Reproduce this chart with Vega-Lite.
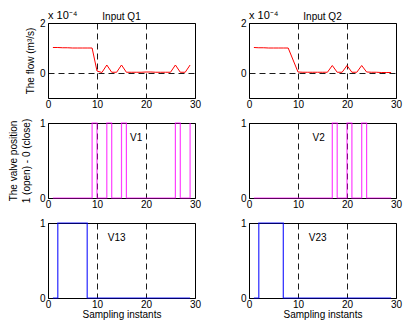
{
  "$schema": "https://vega.github.io/schema/vega-lite/v6.json",
  "padding": {"left": 7, "top": 9, "right": 0, "bottom": 0},
  "background": "white",
  "datasets": {
    "q1": [
      {"t": 1, "v": 1.02}, {"t": 2, "v": 1.02}, {"t": 3, "v": 1.01}, {"t": 4, "v": 1.01}, {"t": 5, "v": 1.0},
      {"t": 6, "v": 1.0}, {"t": 7, "v": 1.0}, {"t": 8, "v": 1.0}, {"t": 9, "v": 1.0}, {"t": 10, "v": 0.08},
      {"t": 11, "v": 0.02}, {"t": 12, "v": 0.32}, {"t": 13, "v": 0.03}, {"t": 14, "v": 0.03}, {"t": 15, "v": 0.32},
      {"t": 16, "v": 0.03}, {"t": 17, "v": 0.03}, {"t": 18, "v": 0.03}, {"t": 19, "v": 0.03}, {"t": 20, "v": 0.04},
      {"t": 21, "v": 0.04}, {"t": 22, "v": 0.03}, {"t": 23, "v": 0.03}, {"t": 24, "v": 0.03}, {"t": 25, "v": 0.03},
      {"t": 26, "v": 0.32}, {"t": 27, "v": 0.03}, {"t": 28, "v": 0.03}, {"t": 29, "v": 0.32}
    ],
    "q2": [
      {"t": 1, "v": 1.02}, {"t": 2, "v": 1.01}, {"t": 3, "v": 1.01}, {"t": 4, "v": 1.0}, {"t": 5, "v": 1.0},
      {"t": 6, "v": 1.0}, {"t": 7, "v": 1.0}, {"t": 8, "v": 1.0}, {"t": 9, "v": 0.52}, {"t": 10, "v": 0.04},
      {"t": 11, "v": 0.03}, {"t": 12, "v": 0.03}, {"t": 13, "v": 0.03}, {"t": 14, "v": 0.03}, {"t": 15, "v": 0.03},
      {"t": 16, "v": 0.03}, {"t": 17, "v": 0.3}, {"t": 18, "v": 0.03}, {"t": 19, "v": 0.03}, {"t": 20, "v": 0.3},
      {"t": 21, "v": 0.03}, {"t": 22, "v": 0.03}, {"t": 23, "v": 0.3}, {"t": 24, "v": 0.04}, {"t": 25, "v": 0.03},
      {"t": 26, "v": 0.03}, {"t": 27, "v": 0.02}, {"t": 28, "v": 0.02}, {"t": 29, "v": 0.02}
    ],
    "v1": [
      {"t": 1, "v": 0}, {"t": 2, "v": 0}, {"t": 3, "v": 0}, {"t": 4, "v": 0}, {"t": 5, "v": 0},
      {"t": 6, "v": 0}, {"t": 7, "v": 0}, {"t": 8, "v": 0}, {"t": 9, "v": 1}, {"t": 10, "v": 0},
      {"t": 11, "v": 0}, {"t": 12, "v": 1}, {"t": 13, "v": 0}, {"t": 14, "v": 0}, {"t": 15, "v": 1},
      {"t": 16, "v": 0}, {"t": 17, "v": 0}, {"t": 18, "v": 0}, {"t": 19, "v": 0}, {"t": 20, "v": 0},
      {"t": 21, "v": 0}, {"t": 22, "v": 0}, {"t": 23, "v": 0}, {"t": 24, "v": 0}, {"t": 25, "v": 0},
      {"t": 26, "v": 1}, {"t": 27, "v": 0}, {"t": 28, "v": 0}, {"t": 29, "v": 1}
    ],
    "v2": [
      {"t": 1, "v": 0}, {"t": 2, "v": 0}, {"t": 3, "v": 0}, {"t": 4, "v": 0}, {"t": 5, "v": 0},
      {"t": 6, "v": 0}, {"t": 7, "v": 0}, {"t": 8, "v": 0}, {"t": 9, "v": 0}, {"t": 10, "v": 0},
      {"t": 11, "v": 0}, {"t": 12, "v": 0}, {"t": 13, "v": 0}, {"t": 14, "v": 0}, {"t": 15, "v": 0},
      {"t": 16, "v": 0}, {"t": 17, "v": 1}, {"t": 18, "v": 0}, {"t": 19, "v": 0}, {"t": 20, "v": 1},
      {"t": 21, "v": 0}, {"t": 22, "v": 0}, {"t": 23, "v": 1}, {"t": 24, "v": 0}, {"t": 25, "v": 0},
      {"t": 26, "v": 0}, {"t": 27, "v": 0}, {"t": 28, "v": 0}, {"t": 29, "v": 0}
    ],
    "v13": [
      {"t": 1, "v": 0}, {"t": 2, "v": 1}, {"t": 3, "v": 1}, {"t": 4, "v": 1}, {"t": 5, "v": 1},
      {"t": 6, "v": 1}, {"t": 7, "v": 1}, {"t": 8, "v": 0}, {"t": 9, "v": 0}, {"t": 10, "v": 0},
      {"t": 11, "v": 0}, {"t": 12, "v": 0}, {"t": 13, "v": 0}, {"t": 14, "v": 0}, {"t": 15, "v": 0},
      {"t": 16, "v": 0}, {"t": 17, "v": 0}, {"t": 18, "v": 0}, {"t": 19, "v": 0}, {"t": 20, "v": 0},
      {"t": 21, "v": 0}, {"t": 22, "v": 0}, {"t": 23, "v": 0}, {"t": 24, "v": 0}, {"t": 25, "v": 0},
      {"t": 26, "v": 0}, {"t": 27, "v": 0}, {"t": 28, "v": 0}, {"t": 29, "v": 0}
    ],
    "v23": [
      {"t": 1, "v": 0}, {"t": 2, "v": 1}, {"t": 3, "v": 1}, {"t": 4, "v": 1}, {"t": 5, "v": 1},
      {"t": 6, "v": 1}, {"t": 7, "v": 0}, {"t": 8, "v": 0}, {"t": 9, "v": 0}, {"t": 10, "v": 0},
      {"t": 11, "v": 0}, {"t": 12, "v": 0}, {"t": 13, "v": 0}, {"t": 14, "v": 0}, {"t": 15, "v": 0},
      {"t": 16, "v": 0}, {"t": 17, "v": 0}, {"t": 18, "v": 0}, {"t": 19, "v": 0}, {"t": 20, "v": 0},
      {"t": 21, "v": 0}, {"t": 22, "v": 0}, {"t": 23, "v": 0}, {"t": 24, "v": 0}, {"t": 25, "v": 0},
      {"t": 26, "v": 0}, {"t": 27, "v": 0}, {"t": 28, "v": 0}, {"t": 29, "v": 0}
    ]
  },
  "columns": 2,
  "bounds": "flush",
  "spacing": {"row": 25, "column": 54},
  "concat": [
    {
      "width": 147, "height": 75,
      "title": {"text": "Input Q1", "frame": "group", "offset": 2, "dy": 14},
      "layer": [
        {
          "data": {"name": "q1"},
          "mark": {"type": "line", "color": "#ff0000", "strokeWidth": 1},
          "encoding": {
            "x": {"field": "t", "type": "quantitative", "scale": {"domain": [0, 30], "nice": false}, "axis": {"values": [0, 10, 20, 30], "title": null}},
            "y": {"field": "v", "type": "quantitative", "scale": {"domain": [-1, 2], "nice": false, "zero": false}, "axis": {"values": [0, 2], "title": "The flow (m³/s)", "titlePadding": 4}}
          }
        },
        {
          "data": {"values": [{"t": 0, "v": 2, "s": "x 10⁻⁴"}]},
          "mark": {"type": "text", "align": "left", "baseline": "bottom", "dy": -2, "fontSize": 11},
          "encoding": {
            "x": {"field": "t", "type": "quantitative"},
            "y": {"field": "v", "type": "quantitative"},
            "text": {"field": "s"}
          }
        }
      ]
    },
    {
      "width": 147, "height": 75,
      "title": {"text": "Input Q2", "frame": "group", "offset": 2, "dy": 14},
      "layer": [
        {
          "data": {"name": "q2"},
          "mark": {"type": "line", "color": "#ff0000", "strokeWidth": 1},
          "encoding": {
            "x": {"field": "t", "type": "quantitative", "scale": {"domain": [0, 30], "nice": false}, "axis": {"values": [0, 10, 20, 30], "title": null}},
            "y": {"field": "v", "type": "quantitative", "scale": {"domain": [-1, 2], "nice": false, "zero": false}, "axis": {"values": [0, 2], "title": null}}
          }
        },
        {
          "data": {"values": [{"t": 0, "v": 2, "s": "x 10⁻⁴"}]},
          "mark": {"type": "text", "align": "left", "baseline": "bottom", "dy": -2, "fontSize": 11},
          "encoding": {
            "x": {"field": "t", "type": "quantitative"},
            "y": {"field": "v", "type": "quantitative"},
            "text": {"field": "s"}
          }
        }
      ]
    },
    {
      "width": 147, "height": 75,
      "layer": [
        {
          "data": {"name": "v1"},
          "mark": {"type": "line", "color": "#ff00ff", "strokeWidth": 1.2, "interpolate": "step-after", "opacity": 0.75},
          "encoding": {
            "x": {"field": "t", "type": "quantitative", "scale": {"domain": [0, 30], "nice": false}, "axis": {"values": [0, 10, 20, 30], "title": null}},
            "y": {"field": "v", "type": "quantitative", "scale": {"domain": [0, 1], "nice": false}, "axis": {"values": [0, 0.5, 1], "labelExpr": "datum.value", "title": ["The valve position", "1 (open) - 0 (close)"], "titlePadding": 8, "titleLineHeight": 13}}
          }
        },
        {
          "data": {"values": [{"t": 18, "v": 0.8, "s": "V1"}]},
          "mark": {"type": "text", "align": "center", "baseline": "middle", "fontSize": 10},
          "encoding": {
            "x": {"field": "t", "type": "quantitative"},
            "y": {"field": "v", "type": "quantitative"},
            "text": {"field": "s"}
          }
        }
      ]
    },
    {
      "width": 147, "height": 75,
      "layer": [
        {
          "data": {"name": "v2"},
          "mark": {"type": "line", "color": "#ff00ff", "strokeWidth": 1.2, "interpolate": "step-after", "opacity": 0.75},
          "encoding": {
            "x": {"field": "t", "type": "quantitative", "scale": {"domain": [0, 30], "nice": false}, "axis": {"values": [0, 10, 20, 30], "title": null}},
            "y": {"field": "v", "type": "quantitative", "scale": {"domain": [0, 1], "nice": false}, "axis": {"values": [0, 0.5, 1], "labelExpr": "datum.value", "title": null}}
          }
        },
        {
          "data": {"values": [{"t": 14.2, "v": 0.8, "s": "V2"}]},
          "mark": {"type": "text", "align": "center", "baseline": "middle", "fontSize": 10},
          "encoding": {
            "x": {"field": "t", "type": "quantitative"},
            "y": {"field": "v", "type": "quantitative"},
            "text": {"field": "s"}
          }
        }
      ]
    },
    {
      "width": 147, "height": 75,
      "layer": [
        {
          "data": {"name": "v13"},
          "mark": {"type": "line", "color": "#0000ff", "strokeWidth": 1.2, "interpolate": "step-after", "opacity": 0.85},
          "encoding": {
            "x": {"field": "t", "type": "quantitative", "scale": {"domain": [0, 30], "nice": false}, "axis": {"values": [0, 10, 20, 30], "title": "Sampling instants", "titlePadding": 0}},
            "y": {"field": "v", "type": "quantitative", "scale": {"domain": [0, 1], "nice": false}, "axis": {"values": [0, 0.5, 1], "labelExpr": "datum.value", "title": null}}
          }
        },
        {
          "data": {"values": [{"t": 14, "v": 0.8, "s": "V13"}]},
          "mark": {"type": "text", "align": "center", "baseline": "middle", "fontSize": 10},
          "encoding": {
            "x": {"field": "t", "type": "quantitative"},
            "y": {"field": "v", "type": "quantitative"},
            "text": {"field": "s"}
          }
        }
      ]
    },
    {
      "width": 147, "height": 75,
      "layer": [
        {
          "data": {"name": "v23"},
          "mark": {"type": "line", "color": "#0000ff", "strokeWidth": 1.2, "interpolate": "step-after", "opacity": 0.85},
          "encoding": {
            "x": {"field": "t", "type": "quantitative", "scale": {"domain": [0, 30], "nice": false}, "axis": {"values": [0, 10, 20, 30], "title": "Sampling instants", "titlePadding": 0}},
            "y": {"field": "v", "type": "quantitative", "scale": {"domain": [0, 1], "nice": false}, "axis": {"values": [0, 0.5, 1], "labelExpr": "datum.value", "title": null}}
          }
        },
        {
          "data": {"values": [{"t": 14, "v": 0.8, "s": "V23"}]},
          "mark": {"type": "text", "align": "center", "baseline": "middle", "fontSize": 10},
          "encoding": {
            "x": {"field": "t", "type": "quantitative"},
            "y": {"field": "v", "type": "quantitative"},
            "text": {"field": "s"}
          }
        }
      ]
    }
  ],
  "config": {
    "font": "Liberation Sans",
    "view": {"stroke": "#000000", "strokeWidth": 1},
    "axis": {
      "domain": false,
      "ticks": false,
      "grid": true,
      "gridColor": "#000000",
      "gridOpacity": 1,
      "gridDash": [6, 4],
      "gridWidth": 0.9,
      "labelFontSize": 10,
      "labelColor": "#000000",
      "labelPadding": 3,
      "labelFlush": false,
      "labelOverlap": false,
      "titleColor": "#000000",
      "titleFontSize": 10,
      "titleFontWeight": "normal",
      "titlePadding": 2
    },
    "axisX": {"labelPadding": 1},
    "title": {"fontSize": 10, "fontWeight": "normal", "color": "#000000", "offset": 2},
    "text": {"color": "#000000", "font": "Liberation Sans"}
  }
}
